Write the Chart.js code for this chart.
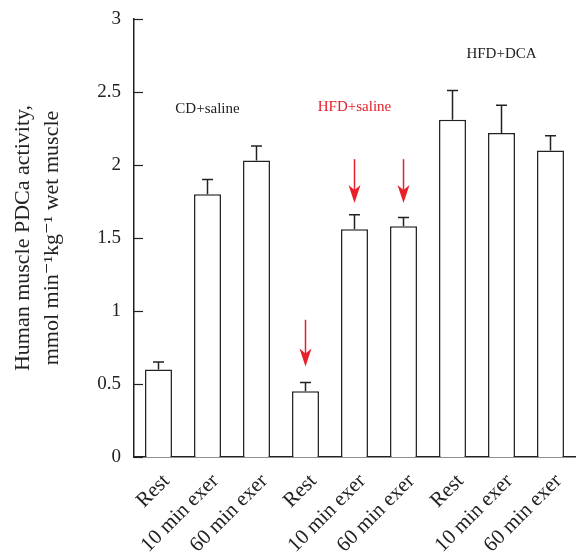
<!DOCTYPE html>
<html>
<head>
<meta charset="utf-8">
<script src="https://cdn.jsdelivr.net/npm/chart.js"></script>
<style>
	html, body { margin: 0; padding: 0; background: #fff; }
	#wrap { width: 576px; height: 557px; }
</style>
</head>
<body>
<div id="wrap"><canvas id="pdcChart"></canvas></div>

<script>
	// --- data ---
	var categories = ['Rest', '10 min exer', '60 min exer', 'Rest', '10 min exer', '60 min exer', 'Rest', '10 min exer', '60 min exer'];
	var meanValues = [0.60, 1.80, 2.03, 0.45, 1.56, 1.58, 2.31, 2.22, 2.10];
	var semValues = [0.05, 0.10, 0.10, 0.06, 0.10, 0.06, 0.20, 0.19, 0.10];
	var yTicks = [0, 0.5, 1, 1.5, 2, 2.5, 3];

	// group labels: text, category index they sit over, height in data units, colour
	var groupNames = ['CD+saline', 'HFD+saline', 'HFD+DCA'];
	var groupAt = [1, 4, 7];
	var groupY = [2.38, 2.40, 2.76];
	var groupColors = ['#222', '#e8202a', '#222'];

	// red arrows: which bars, where the arrow starts and where its tip points (data units)
	var arrowBars = [3, 4, 5];
	var arrowFrom = [0.94, 2.04, 2.04];
	var arrowTo = [0.62, 1.74, 1.74];

	var serif = '"Liberation Serif", "DejaVu Serif", serif';

	// error bars (upper half only) + inward y ticks + annotations
	var extrasPlugin = {
		id: 'extras',
		afterDatasetsDraw: function (chart) {
			var ctx = chart.ctx;
			var x = chart.scales.x;
			var y = chart.scales.y;
			var bars = chart.getDatasetMeta(0).data;
			ctx.save();

			// error bars
			ctx.strokeStyle = '#222';
			ctx.lineWidth = 1.5;
			for (var i = 0; i < meanValues.length; i++) {
				var cx = bars[i].x;
				var y0 = y.getPixelForValue(meanValues[i]);
				var y1 = y.getPixelForValue(meanValues[i] + semValues[i]);
				ctx.beginPath();
				ctx.moveTo(cx, y0);
				ctx.lineTo(cx, y1);
				ctx.moveTo(cx - 5.5, y1);
				ctx.lineTo(cx + 5.5, y1);
				ctx.stroke();
			}

			// y ticks pointing into the plot
			ctx.lineWidth = 1.2;
			yTicks.forEach(function (v) {
				var py = Math.round(y.getPixelForValue(v)) + 0.5;
				ctx.beginPath();
				ctx.moveTo(chart.chartArea.left, py);
				ctx.lineTo(chart.chartArea.left + 9, py);
				ctx.stroke();
			});

			// red arrows
			ctx.strokeStyle = '#e8202a';
			ctx.fillStyle = '#e8202a';
			ctx.lineWidth = 1.5;
			for (var k = 0; k < arrowBars.length; k++) {
				var ax = bars[arrowBars[k]].x;
				var top = y.getPixelForValue(arrowFrom[k]);
				var tip = y.getPixelForValue(arrowTo[k]);
				ctx.beginPath();
				ctx.moveTo(ax, top);
				ctx.lineTo(ax, tip - 12);
				ctx.stroke();
				ctx.beginPath();
				ctx.moveTo(ax - 6, tip - 18);
				ctx.lineTo(ax, tip - 13);
				ctx.lineTo(ax + 6, tip - 18);
				ctx.lineTo(ax, tip);
				ctx.closePath();
				ctx.fill();
			}

			// group labels
			ctx.font = '15px ' + serif;
			ctx.textAlign = 'center';
			ctx.textBaseline = 'middle';
			for (var g = 0; g < groupNames.length; g++) {
				ctx.fillStyle = groupColors[g];
				ctx.fillText(groupNames[g], x.getPixelForValue(groupAt[g]), y.getPixelForValue(groupY[g]));
			}
			ctx.restore();
		}
	};

	var ctx = document.getElementById('pdcChart').getContext('2d');
	new Chart(ctx, {
		type: 'bar',
		data: {
			labels: categories,
			datasets: [ {
				data: meanValues,
				backgroundColor: '#fff',
				borderColor: '#222',
				borderWidth: 1.5,
				categoryPercentage: 1,
				barPercentage: 0.55
			} ]
		},
		options: {
			responsive: true,
			maintainAspectRatio: false,
			animation: false,
			layout: { padding: { top: 19, right: 1, left: 0, bottom: 0 } },
			scales: {
				x: {
					grid: { display: false },
					border: { display: true, color: '#222', width: 1.5 },
					ticks: {
						color: '#222',
						maxRotation: 45,
						minRotation: 45,
						autoSkip: false,
						padding: 4,
						labelOffset: 8,
						font: { family: serif, size: 21 }
					},
					afterFit: function (scale) { scale.height = 100; }
				},
				y: {
					min: 0,
					max: 3,
					grid: { display: false },
					border: { display: true, color: '#222', width: 1.5 },
					ticks: {
						stepSize: 0.5,
						color: '#222',
						padding: 5,
						font: { family: serif, size: 19 },
						callback: function (value) { return String(value); }
					},
					title: {
						display: true,
						text: ['Human muscle PDCa activity,', 'mmol min\u207B\u00B9kg\u207B\u00B9 wet muscle'],
						color: '#222',
						padding: { top: 9, bottom: 0 },
						font: { family: serif, size: 22, lineHeight: 1.3 }
					},
					afterFit: function (scale) { scale.width = 134; }
				}
			},
			plugins: {
				legend: { display: false },
				tooltip: { enabled: false }
			}
		},
		plugins: [extrasPlugin]
	});
</script>
</body>
</html>
